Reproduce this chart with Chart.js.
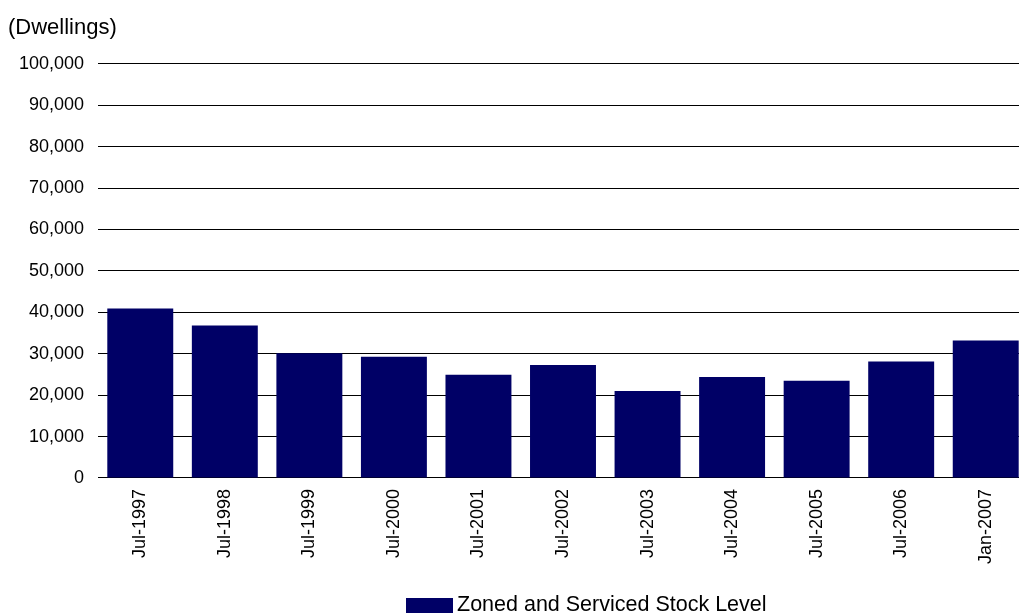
<!DOCTYPE html>
<html>
<head>
<meta charset="utf-8">
<script src="https://cdn.jsdelivr.net/npm/chart.js@4"></script>
<style>
  html, body { margin: 0; padding: 0; overflow: hidden; background: #fff; }
  #wrap { position: relative; width: 1019px; height: 614px; overflow: hidden; }
  #legend {
    position: absolute; left: 406px; top: 592px;
    font-family: "Liberation Sans", Arial, sans-serif; font-size: 21.5px; color: #000;
    white-space: nowrap; line-height: 24px;
  }
  #legend .sw { display: inline-block; width: 47px; height: 15px; background: #000066; vertical-align: -2px; margin-right: 4px; }
</style>
</head>
<body>
<div id="wrap">
  <canvas id="myChart" width="1030" height="614"></canvas>
  <div id="legend"><span class="sw"></span>Zoned and Serviced Stock Level</div>
</div>
<script>
const categories = ["Jul-1997", "Jul-1998", "Jul-1999", "Jul-2000", "Jul-2001", "Jul-2002",
  "Jul-2003", "Jul-2004", "Jul-2005", "Jul-2006", "Jan-2007"];
const stockLevel = [40900, 36800, 30100, 29300, 24900, 27300, 21000, 24400, 23500, 28100, 33200];
const seriesName = "Zoned and Serviced Stock Level";
const unitLabel = "(Dwellings)";
const yMax = 100000;
const yStep = 10000;

const fontFamily = '"Liberation Sans", Arial, sans-serif';

document.addEventListener("DOMContentLoaded", function () {
  const ctx = document.getElementById("myChart");

  // ====== CHART ========
  new Chart(ctx, {
    type: "bar",
    data: {
      labels: categories,
      datasets: [
        {
          label: seriesName,
          data: stockLevel,
          backgroundColor: "#000066",
          borderWidth: 0,
          categoryPercentage: 1,
          barPercentage: 0.78,
        },
      ],
    },
    options: {
      responsive: false,
      animation: false,
      layout: { padding: { left: 8, right: 2, top: 0, bottom: 47 } },
      plugins: {
        legend: { display: false },
        tooltip: { enabled: false },
        title: {
          display: true,
          text: unitLabel,
          align: "start",
          color: "#000",
          font: { family: fontFamily, size: 22, weight: "normal" },
          padding: { top: 15, bottom: 22.5 },
        },
      },
      scales: {
        x: {
          grid: { display: false },
          border: { display: false },
          ticks: {
            color: "#000",
            font: { family: fontFamily, size: 18 },
            maxRotation: 90,
            minRotation: 90,
            padding: 3,
          },
        },
        y: {
          min: 0,
          max: yMax,
          afterFit: function (scale) { scale.width = 90; },
          grid: { color: "#000", lineWidth: 1, drawTicks: false },
          border: { display: false },
          ticks: {
            stepSize: yStep,
            color: "#000",
            padding: 14,
            font: { family: fontFamily, size: 18 },
            callback: function (v) { return v.toLocaleString("en-US"); },
          },
        },
      },
    },
  });
});
</script>
</body>
</html>
